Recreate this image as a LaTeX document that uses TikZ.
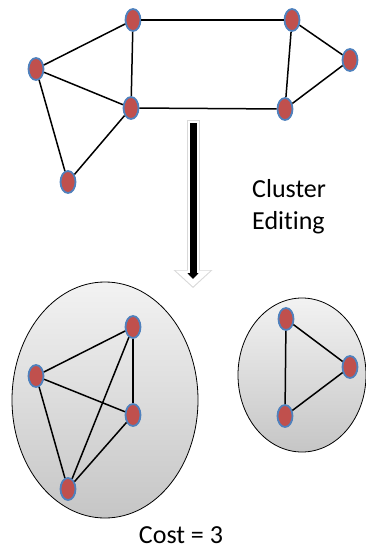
\documentclass[tikz,border=0pt]{standalone}
\usepackage{fontspec}
\setmainfont[Ligatures=NoCommon]{Carlito}
\usetikzlibrary{shapes.geometric,arrows.meta}
\definecolor{vertred}{RGB}{192,80,77}
\definecolor{vertblue}{RGB}{79,129,189}

\begin{document}
\begin{tikzpicture}
  [x=1pt,y=-1pt,
   vert/.style={ellipse,draw=vertblue,line width=1.8pt,fill=vertred,minimum width=15pt,minimum height=22pt,inner sep=0pt},
   cluster/.style={ellipse,draw,line width=0.8pt,top color=gray!10,bottom color=gray!45,inner sep=0pt},
   edge/.style={line width=1.5pt},
   lbl/.style={font=\fontsize{26}{32}\selectfont,align=left,inner sep=0pt}]
  \useasboundingbox (0,0) rectangle (366,549);

  % clusters
  \node[cluster,minimum width=186pt,minimum height=236pt] (c1) at (105,400) {};
  \node[cluster,minimum width=128pt,minimum height=154pt] (c2) at (302,375) {};

  % input graph
  \node[vert] (n1) at (36,69)   {};
  \node[vert] (n2) at (133,20)  {};
  \node[vert] (n3) at (131,108) {};
  \node[vert] (n4) at (68,182)  {};
  \node[vert] (n5) at (292,20)  {};
  \node[vert] (n6) at (350,60)  {};
  \node[vert] (n7) at (285,109) {};

  % edited graph
  \node[vert] (m1) at (133,327) {};
  \node[vert] (m2) at (36,376)  {};
  \node[vert] (m3) at (133,415) {};
  \node[vert] (m4) at (68,489)  {};
  \node[vert] (m5) at (286,319) {};
  \node[vert] (m6) at (350,367) {};
  \node[vert] (m7) at (285,416) {};

  \foreach \from/\to in {n1/n2,n1/n3,n1/n4,n3/n4,n2/n3,n2/n5,n3/n7,n5/n6,n6/n7,n5/n7,
                         m2/m1,m1/m3,m1/m4,m2/m3,m2/m4,m3/m4,m5/m6,m5/m7,m6/m7}
    \draw[edge] (\from) -- (\to);

  % arrow
  \coordinate (arrtop) at (193,123);
  \coordinate (arrtip) at (193,288);
  \draw[gray!30,line width=13pt,shorten <=-3pt,-{Triangle[width=38pt,length=18pt]}] (arrtop) -- (arrtip);
  \draw[white,line width=11pt,shorten <=-2pt,shorten >=1.5pt,-{Triangle[width=34pt,length=16pt]}] (arrtop) -- (arrtip);
  \draw[black,line width=7pt,shorten >=9pt,-{Triangle[width=11pt,length=6pt]}] (arrtop) -- (arrtip);

  \node[lbl,anchor=west] (lab) at (252,207) {Cluster\\Editing};
  \node[lbl,anchor=base] (cost) at (181,543) {Cost = 3};
\end{tikzpicture}
\end{document}
